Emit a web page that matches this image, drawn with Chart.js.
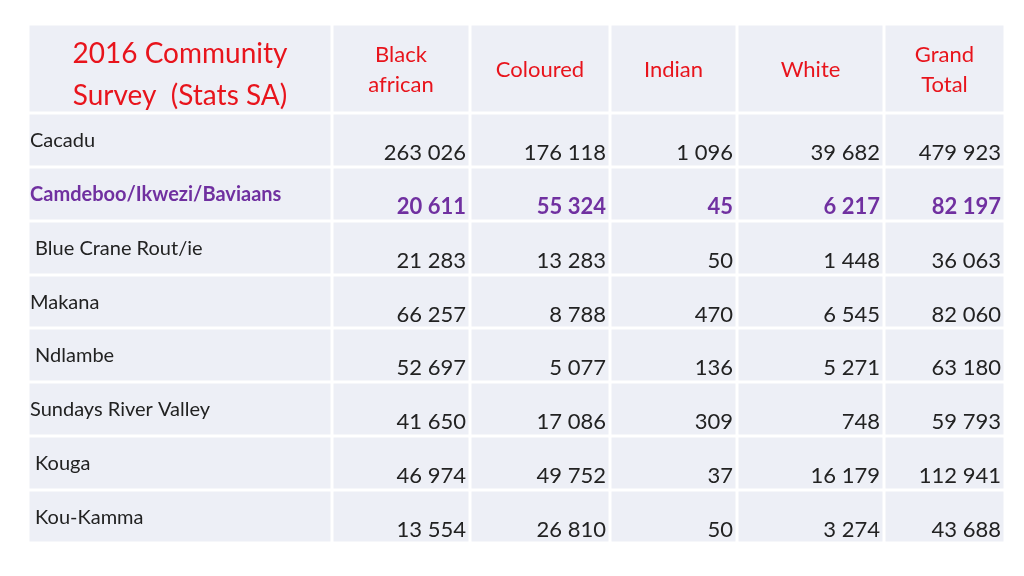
<!DOCTYPE html>
<html>
<head>
<meta charset="utf-8">
<script src="https://cdn.jsdelivr.net/npm/chart.js@4"></script>
<style>
  body { margin: 0; background: #fff; }
</style>
</head>
<body>
<canvas id="tbl" width="1024" height="576"></canvas>
<script>
// table content
const titleLines = ['2016 Community', 'Survey  (Stats SA)'];
const columnHeads = [['Black', 'african'], ['Coloured'], ['Indian'], ['White'], ['Grand', 'Total']];
const areas = ['Cacadu', 'Camdeboo/Ikwezi/Baviaans', ' Blue Crane Rout/ie', 'Makana', ' Ndlambe', 'Sundays River Valley', ' Kouga', ' Kou-Kamma'];
const blackAfrican = ['263 026', '20 611', '21 283', '66 257', '52 697', '41 650', '46 974', '13 554'];
const coloured = ['176 118', '55 324', '13 283', '8 788', '5 077', '17 086', '49 752', '26 810'];
const indian = ['1 096', '45', '50', '470', '136', '309', '37', '50'];
const white = ['39 682', '6 217', '1 448', '6 545', '5 271', '748', '16 179', '3 274'];
const grandTotal = ['479 923', '82 197', '36 063', '82 060', '63 180', '59 793', '112 941', '43 688'];
const highlightRow = 1;

// layout: column and row edges in table units
const colEdges = [0, 304, 442, 582, 709, 856, 977];
const rowEdges = [0, 89, 143, 197, 251, 304, 358, 412, 466, 519];

const red = '#e8141c', purple = '#7030a0', ink = '#222';
const font = 'Lato, "Open Sans", sans-serif';

const tablePlugin = {
  id: 'tablePlugin',
  beforeDatasetsDraw(chart) {
    const c = chart.ctx, x = chart.scales.x, y = chart.scales.y;
    const cols = [blackAfrican, coloured, indian, white, grandTotal];
    c.save();
    // cells
    for (let r = 0; r < rowEdges.length - 1; r++) {
      for (let k = 0; k < colEdges.length - 1; k++) {
        const x0 = x.getPixelForValue(colEdges[k]), x1 = x.getPixelForValue(colEdges[k + 1]);
        const y0 = y.getPixelForValue(rowEdges[r]), y1 = y.getPixelForValue(rowEdges[r + 1]);
        c.fillStyle = '#edeff6';
        c.fillRect(x0 + 1.5, y0 + 1.5, x1 - x0 - 3, y1 - y0 - 3);
      }
    }
    // title
    c.fillStyle = red;
    c.textAlign = 'center';
    c.textBaseline = 'middle';
    c.font = '28px ' + font;
    const tx = x.getPixelForValue(colEdges[1] / 2);
    c.fillText(titleLines[0], tx, y.getPixelForValue(30));
    c.fillText(titleLines[1], tx, y.getPixelForValue(72));
    // column heads
    c.font = '22px ' + font;
    columnHeads.forEach((h, k) => {
      const cx = x.getPixelForValue((colEdges[k + 1] + colEdges[k + 2]) / 2);
      if (h.length === 1) c.fillText(h[0], cx, y.getPixelForValue(46));
      else { c.fillText(h[0], cx, y.getPixelForValue(31)); c.fillText(h[1], cx, y.getPixelForValue(61)); }
    });
    // rows
    areas.forEach((name, r) => {
      const top = rowEdges[r + 1];
      const hl = r === highlightRow;
      c.fillStyle = hl ? purple : ink;
      c.textAlign = 'left';
      c.font = (hl ? 'bold ' : '') + '20px ' + font;
      c.fillText(name, x.getPixelForValue(2), y.getPixelForValue(top + 28));
      c.textAlign = 'right';
      c.font = (hl ? 'bold ' : '') + '22px ' + font;
      cols.forEach((col, k) => {
        c.fillText(col[r], x.getPixelForValue(colEdges[k + 2] - 4), y.getPixelForValue(top + 40));
      });
    });
    c.restore();
  }
};

new Chart(document.getElementById('tbl'), {
  type: 'scatter',
  data: { datasets: [{ data: [], pointRadius: 0 }] },
  options: {
    responsive: false,
    animation: false,
    layout: { padding: { left: 28, right: 19, top: 24, bottom: 33 } },
    plugins: { legend: { display: false }, tooltip: { enabled: false } },
    scales: {
      x: { type: 'linear', display: false, min: 0, max: colEdges[colEdges.length - 1] },
      y: { type: 'linear', display: false, reverse: true, min: 0, max: rowEdges[rowEdges.length - 1] }
    }
  },
  plugins: [tablePlugin]
});
</script>
</body>
</html>
